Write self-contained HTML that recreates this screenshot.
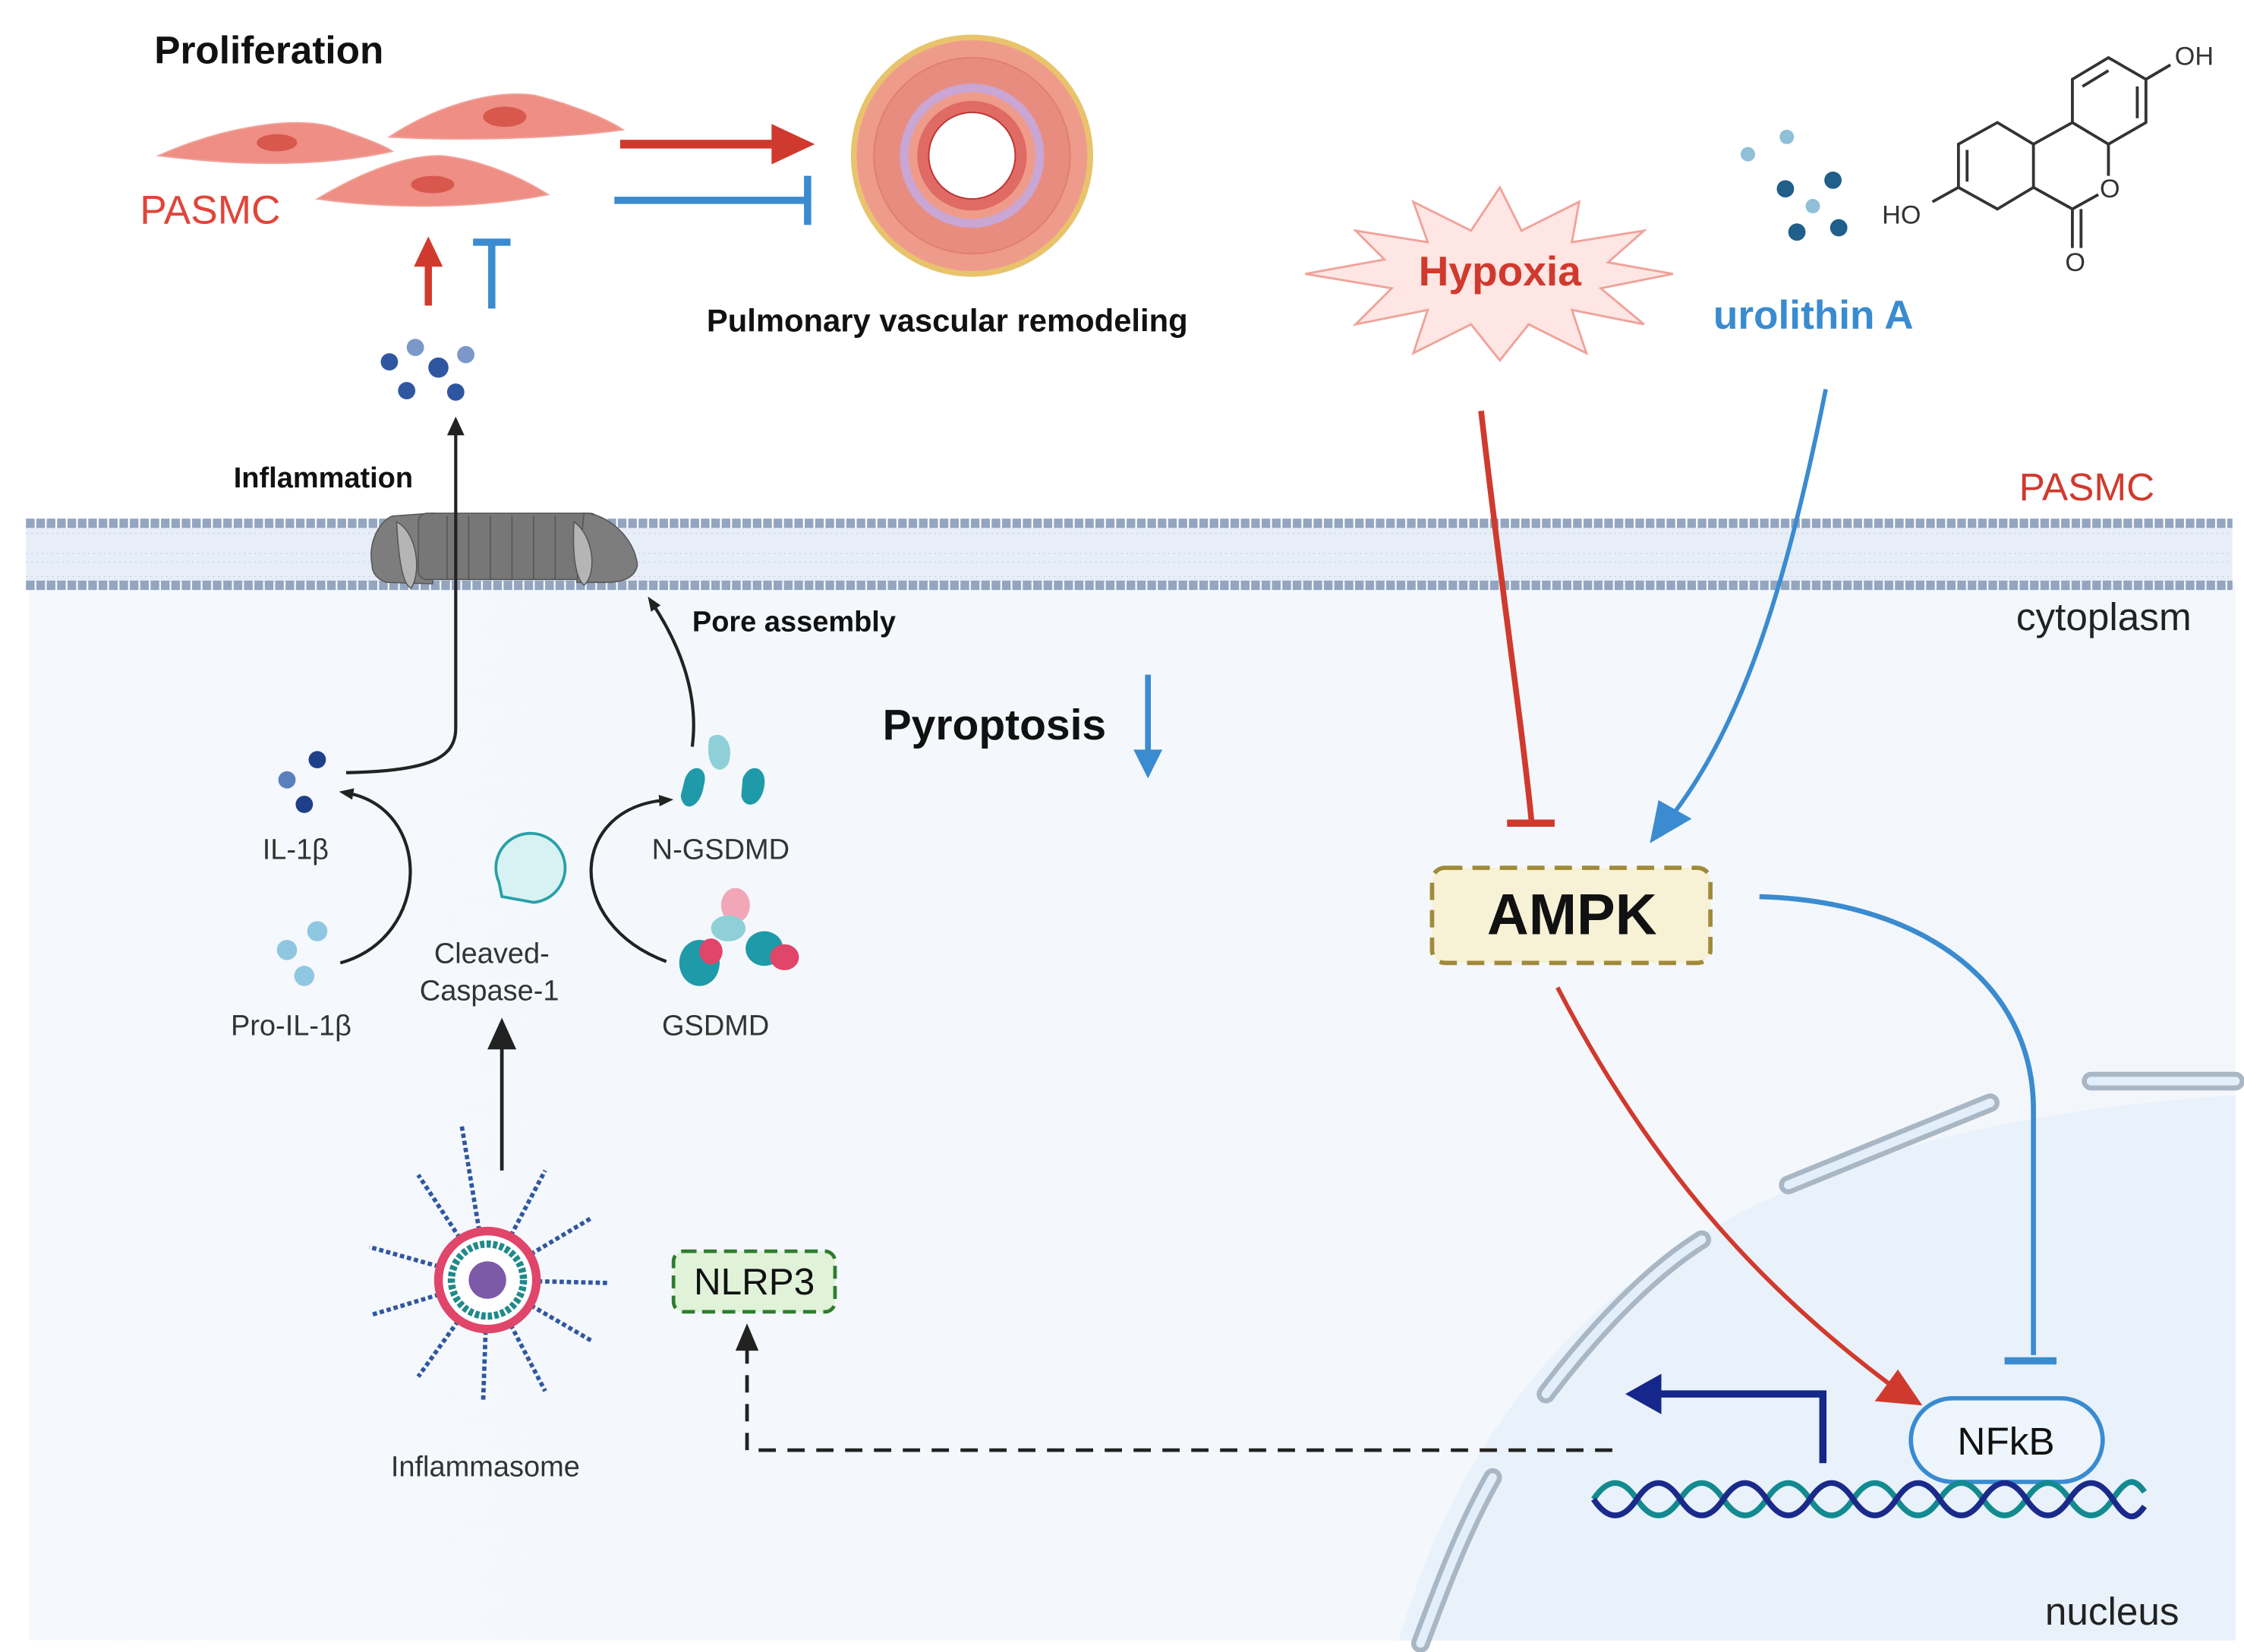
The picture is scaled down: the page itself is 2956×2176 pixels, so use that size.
<!DOCTYPE html>
<html><head><meta charset="utf-8"><style>
html,body{margin:0;padding:0;background:#fff;}
svg{display:block;}
text{font-family:"Liberation Sans",sans-serif;}
</style></head><body>
<svg width="2956" height="2176" viewBox="0 0 1556 1146" preserveAspectRatio="none" xmlns="http://www.w3.org/2000/svg">
<defs>
<linearGradient id="cyto" x1="0" x2="1" y1="0" y2="0"><stop offset="0" stop-color="#f5f8fc"/><stop offset="1" stop-color="#f3f7fc"/></linearGradient>
<marker id="ab" markerWidth="10" markerHeight="10" refX="5" refY="5" orient="auto" markerUnits="userSpaceOnUse"><path d="M0,1 L10,5 L0,9 z" fill="#222"/></marker>
</defs>
<rect x="20" y="405" width="1530" height="733" fill="url(#cyto)"/>
<path d="M970,1138 C1040,900 1220,780 1550,760 L1550,1138 Z" fill="#e9f1fa"/>
<rect x="18" y="366" width="1530" height="38" fill="#e8eef8"/>
<g stroke="#c6d3e8" stroke-width="0.8">
<path d="M18,370 H1548 M18,384 H1548 M18,390 H1548 M18,400 H1548" stroke-dasharray="1 2.6"/>
</g>
<path d="M18,363 H1548" stroke="#93a5bf" stroke-width="6.5" stroke-dasharray="6 1.2"/>
<path d="M18,406 H1548" stroke="#93a5bf" stroke-width="6.5" stroke-dasharray="6 1.2"/>
<g stroke="#555" stroke-width="0.8">
<path d="M258,392 C255,378 262,362 272,358 L300,356 L300,405 L268,404 C262,402 258,398 258,392Z" fill="#7d7d7d"/>
<rect x="290" y="356" width="125" height="46" rx="6" fill="#777"/>
<path d="M405,356 C420,356 440,372 442,392 C440,402 430,404 420,404 L400,404Z" fill="#7d7d7d"/>
<path d="M275,362 C290,370 292,398 285,408 C278,405 276,380 275,362Z" fill="#b5b5b5"/>
<path d="M398,362 C412,372 414,398 405,406 C398,400 397,380 398,362Z" fill="#b5b5b5"/>
<path d="M310,358 V402 M325,358 V402 M340,358 V402 M355,358 V402 M370,358 V402 M385,358 V402" stroke="#555"/>
</g>
<g fill="#ee8e84" stroke="#f0a29a">
<path d="M110,108 C150,90 200,80 230,88 C250,95 265,100 272,105 C240,112 190,118 110,108Z"/>
<path d="M270,95 C300,75 340,62 370,66 C395,72 420,82 432,90 C390,96 320,98 270,95Z"/>
<path d="M220,138 C250,120 280,108 305,108 C330,110 360,122 380,135 C330,145 270,145 220,138Z"/>
</g>
<g fill="#d8584e"><ellipse cx="192" cy="99" rx="14" ry="6"/><ellipse cx="350" cy="81" rx="15" ry="7"/><ellipse cx="300" cy="128" rx="15" ry="6"/></g>
<text x="107" y="44" font-size="27" font-weight="bold" fill="#111">Proliferation</text>
<text x="97" y="155" font-size="28" fill="#e0453a">PASMC</text>
<path d="M430,100 H540" stroke="#d03a2e" stroke-width="6"/><path d="M535,86 L565,100 L535,114Z" fill="#d03a2e"/>
<path d="M426,139 H560" stroke="#3a8bd0" stroke-width="5"/><path d="M560,122 V156" stroke="#3a8bd0" stroke-width="5"/>
<path d="M297,212 V180" stroke="#d03a2e" stroke-width="5"/><path d="M287,185 L297,164 L307,185Z" fill="#d03a2e"/>
<path d="M341,214 V168 M328,168 H354" stroke="#3a8bd0" stroke-width="5"/>
<circle cx="674" cy="108" r="84" fill="#e8c36c"/>
<circle cx="674" cy="108" r="80" fill="#ef9b8c"/>
<circle cx="674" cy="108" r="68" fill="#e88c80" stroke="#e07e72" stroke-width="1"/>
<circle cx="674" cy="108" r="50" fill="#c9a6d3"/>
<circle cx="674" cy="108" r="44" fill="#ef9b8c"/>
<circle cx="674" cy="108" r="38" fill="#e06b64"/>
<circle cx="674" cy="108" r="30" fill="#fff" stroke="#b33" stroke-width="1"/>
<text x="490" y="230" font-size="22" font-weight="bold" fill="#111">Pulmonary vascular  remodeling</text>
<g fill="#2f56a0"><circle cx="270" cy="251" r="6"/><circle cx="288" cy="241" r="6" fill="#7b98c8"/><circle cx="304" cy="255" r="7"/><circle cx="323" cy="246" r="6" fill="#7b98c8"/><circle cx="282" cy="271" r="6"/><circle cx="316" cy="272" r="6"/></g>
<text x="162" y="338" font-size="20" font-weight="bold" fill="#111">Inflammation</text>
<path d="M316,292 V505 C316,525 300,535 240,536" stroke="#222" stroke-width="2.2" fill="none"/>
<path d="M310,302 L316,289 L322,302Z" fill="#222"/>
<g><circle cx="220" cy="527" r="6" fill="#1f3f8a"/><circle cx="199" cy="541" r="6" fill="#5a7fbd"/><circle cx="211" cy="558" r="6" fill="#1f3f8a"/></g>
<text x="182" y="596" font-size="20" fill="#333">IL-1β</text>
<g fill="#8fc7e0"><circle cx="220" cy="646" r="7"/><circle cx="199" cy="659" r="7"/><circle cx="211" cy="677" r="7"/></g>
<text x="160" y="718" font-size="20" fill="#333">Pro-IL-1β</text>
<path d="M236,668 C300,650 300,560 240,550" stroke="#222" stroke-width="2.2" fill="none" marker-end="url(#ab)"/>
<path d="M346,612 A24,24 0 1,1 370,626 L348,622 Z" fill="#d8f2f4" stroke="#2aa0a8" stroke-width="2"/>
<text x="301" y="668" font-size="20" fill="#333">Cleaved-</text>
<text x="291" y="694" font-size="20" fill="#333">Caspase-1</text>
<path d="M348,812 V725" stroke="#222" stroke-width="2.5"/><path d="M338,728 L348,706 L358,728Z" fill="#222"/>
<path d="M462,667 C390,640 395,560 462,555" stroke="#222" stroke-width="2.2" fill="none" marker-end="url(#ab)"/>
<g fill="#1f9aa8"><path d="M475,540 C480,528 492,532 488,545 C486,560 474,565 472,552Z"/><path d="M515,540 C520,528 532,532 530,545 C528,560 516,562 514,552Z"/></g>
<path d="M492,512 C500,505 510,515 505,530 C498,540 488,530 492,512Z" fill="#8fd0d8"/>
<text x="452" y="596" font-size="20" fill="#333">N-GSDMD</text>
<g><ellipse cx="510" cy="628" rx="10" ry="12" fill="#f2a7b8"/><ellipse cx="505" cy="644" rx="12" ry="9" fill="#8fd0d8"/><ellipse cx="485" cy="668" rx="14" ry="16" fill="#1f9aa8"/><ellipse cx="493" cy="660" rx="8" ry="9" fill="#e0456a"/><ellipse cx="530" cy="658" rx="13" ry="12" fill="#1f9aa8"/><ellipse cx="544" cy="664" rx="10" ry="9" fill="#e0456a"/></g>
<text x="459" y="718" font-size="20" fill="#333">GSDMD</text>
<path d="M480,518 C485,480 470,445 452,418" stroke="#222" stroke-width="2.2" fill="none" marker-end="url(#ab)"/>
<text x="480" y="438" font-size="20" font-weight="bold" fill="#111">Pore assembly</text>
<text x="612" y="513" font-size="30" font-weight="bold" fill="#111">Pyroptosis</text>
<path d="M796,468 V525" stroke="#3a8bd0" stroke-width="4"/><path d="M786,520 L796,540 L806,520Z" fill="#3a8bd0"/>
<g stroke="#2f56a0" stroke-width="3" stroke-dasharray="3 2">
<path d="M338,888 L320,780 M338,888 L378,812 M338,888 L410,845 M338,888 L422,890 M338,888 L410,930 M338,888 L378,965 M338,888 L335,972 M338,888 L290,955 M338,888 L258,912 M338,888 L256,865 M338,888 L290,815"/>
</g>
<circle cx="338" cy="888" r="34" fill="#fff" stroke="#e0456a" stroke-width="6"/>
<circle cx="338" cy="888" r="25" fill="#fff" stroke="#1f8a8a" stroke-width="5" stroke-dasharray="3 1.5"/>
<circle cx="338" cy="888" r="13" fill="#7d5aa8"/>
<text x="271" y="1024" font-size="20" fill="#333">Inflammasome</text>
<rect x="467" y="868" width="112" height="42" rx="7" fill="#e0f3d8" stroke="#2e7d2e" stroke-width="2.5" stroke-dasharray="9 5"/>
<text x="523" y="898" font-size="26" fill="#111" text-anchor="middle">NLRP3</text>
<path d="M1118,1006 H518 V935" stroke="#222" stroke-width="2.5" stroke-dasharray="12 8" fill="none"/>
<path d="M510,937 L518,918 L526,937Z" fill="#222"/>
<polygon points="1040,130 1055,160 1095,140 1090,168 1140,160 1115,182 1160,190 1110,200 1140,225 1090,215 1100,245 1060,225 1040,250 1020,225 980,245 990,215 940,225 965,200 905,190 960,180 940,160 990,168 980,140 1020,160" fill="#fde6e3" stroke="#f0a29a" stroke-width="1.5"/>
<text x="1040" y="198" font-size="29" font-weight="bold" fill="#d03a2e" text-anchor="middle">Hypoxia</text>
<text x="1188" y="228" font-size="28" font-weight="bold" fill="#3a8bd0">urolithin A</text>
<g><circle cx="1212" cy="107" r="5" fill="#8fc0d8"/><circle cx="1239" cy="95" r="5" fill="#8fc0d8"/><circle cx="1238" cy="131" r="6" fill="#1f5f8a"/><circle cx="1271" cy="125" r="6" fill="#1f5f8a"/><circle cx="1257" cy="143" r="5" fill="#8fc0d8"/><circle cx="1246" cy="161" r="6" fill="#1f5f8a"/><circle cx="1275" cy="158" r="6" fill="#1f5f8a"/></g>
<g stroke="#333" stroke-width="2" fill="none">
<polygon points="1410,100 1385,85 1358,100 1358,130 1385,145 1410,130"/>
<polygon points="1437,85 1437,55 1462,40 1488,55 1488,85 1462,100"/>
<path d="M1410,100 L1437,85 M1462,100 L1462,122 M1410,130 L1437,145 L1455,135 M1437,145 L1437,172 M1443,145 L1443,172 M1358,130 L1340,140 M1488,55 L1505,45 M1364,104 L1364,126 M1444,60 L1462,49 M1482,60 L1482,82"/>
</g>
<text x="1305" y="155" font-size="18" fill="#333">HO</text><text x="1508" y="45" font-size="18" fill="#333">OH</text>
<text x="1456" y="137" font-size="18" fill="#333">O</text><text x="1432" y="188" font-size="18" fill="#333">O</text>
<text x="1400" y="347" font-size="27" fill="#d03a2e">PASMC</text>
<text x="1398" y="437" font-size="27" fill="#222">cytoplasm</text>
<text x="1418" y="1127" font-size="27" fill="#222">nucleus</text>
<path d="M1027,285 C1040,400 1055,500 1062,570" stroke="#d03a2e" stroke-width="4" fill="none"/>
<path d="M1045,571 H1078" stroke="#d03a2e" stroke-width="5"/>
<path d="M1266,270 C1240,400 1210,500 1160,565" stroke="#3a8bd0" stroke-width="3" fill="none"/>
<path d="M1144,585 L1150,555 L1173,568Z" fill="#3a8bd0"/>
<rect x="993" y="602" width="193" height="66" rx="9" fill="#f7f2d6" stroke="#a08a3a" stroke-width="3" stroke-dasharray="12 7"/>
<text x="1090" y="648" font-size="40" font-weight="bold" fill="#111" text-anchor="middle">AMPK</text>
<g stroke="#a9b7c5" stroke-width="13" stroke-linecap="round" fill="none"><path d="M1450,750 L1550,750"/><path d="M1240,822 L1380,765"/><path d="M1072,967 C1100,930 1140,885 1180,860"/><path d="M985,1140 C1000,1100 1015,1060 1035,1025"/></g>
<g stroke="#e2eefa" stroke-width="6" stroke-linecap="round" fill="none"><path d="M1450,750 L1550,750"/><path d="M1240,822 L1380,765"/><path d="M1072,967 C1100,930 1140,885 1180,860"/><path d="M985,1140 C1000,1100 1015,1060 1035,1025"/></g>
<path d="M1080,685 C1150,820 1230,900 1310,960" stroke="#d03a2e" stroke-width="3" fill="none"/>
<path d="M1333,975 L1300,972 L1316,950Z" fill="#d03a2e"/>
<path d="M1220,622 C1330,625 1410,680 1410,770 V940" stroke="#3a8bd0" stroke-width="3.5" fill="none"/>
<path d="M1390,944 H1426" stroke="#3a8bd0" stroke-width="5"/>
<rect x="1325" y="970" width="133" height="58" rx="29" fill="#eef5fc" stroke="#3a8bd0" stroke-width="3"/>
<text x="1391" y="1009" font-size="27" fill="#111" text-anchor="middle">NFkB</text>
<path d="M1264,1015 V967 H1150" stroke="#15278a" stroke-width="5" fill="none"/>
<path d="M1127,967 L1152,953 L1152,981Z" fill="#15278a"/>
<path d="M1105,1040 C1115,1025 1125,1025 1135,1040 S1155,1055 1165,1040 S1185,1025 1195,1040 S1215,1055 1225,1040 S1245,1025 1255,1040 S1275,1055 1285,1040 S1305,1025 1315,1040 S1335,1055 1345,1040 S1365,1025 1375,1040 S1395,1055 1405,1040 S1425,1025 1435,1040 S1455,1055 1465,1040 S1480,1025 1487,1035" stroke="#138a90" stroke-width="4" fill="none"/>
<path d="M1105,1040 C1115,1055 1125,1055 1135,1040 S1155,1025 1165,1040 S1185,1055 1195,1040 S1215,1025 1225,1040 S1245,1055 1255,1040 S1275,1025 1285,1040 S1305,1055 1315,1040 S1335,1025 1345,1040 S1365,1055 1375,1040 S1395,1025 1405,1040 S1425,1055 1435,1040 S1455,1025 1465,1040 S1480,1055 1487,1045" stroke="#1a2a8a" stroke-width="4" fill="none"/>
</svg>
</body></html>
